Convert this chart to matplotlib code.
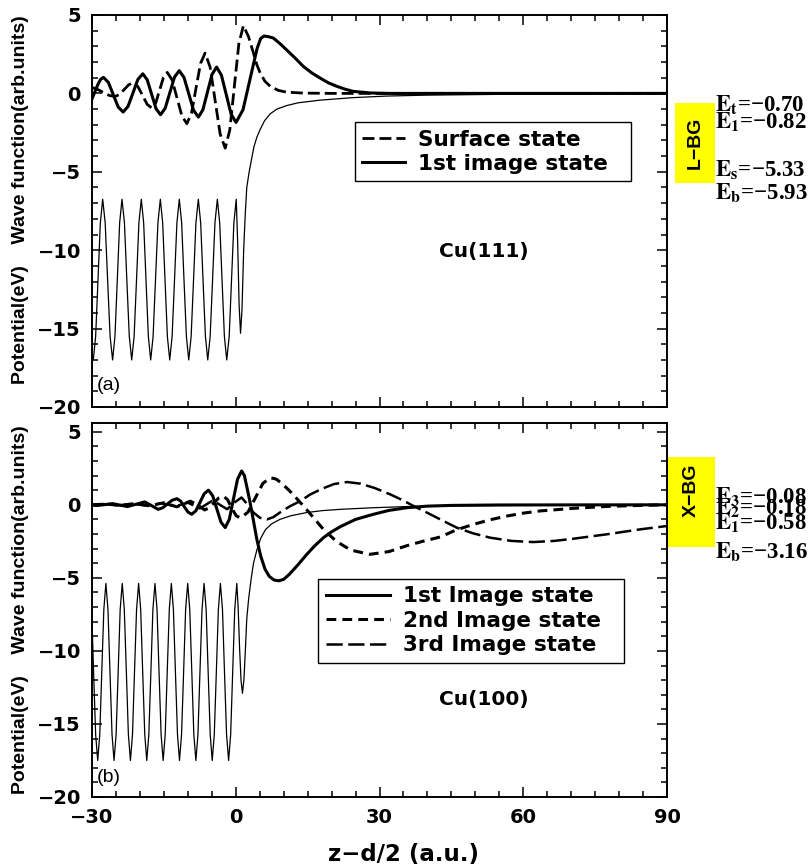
import matplotlib
matplotlib.use('Agg')
import matplotlib.pyplot as plt
from matplotlib.ticker import MultipleLocator
from matplotlib.patches import Rectangle

'''
Datos leidos de la figura: potencial y funciones de onda
(a) Cu(111)   (b) Cu(100)
'''

# ---- (a) Cu(111): potencial ----
z_pot_a = [-30.00, -29.73, -29.24, -28.75, -28.26, -27.77, -27.25, -26.74, -26.22,
           -25.70, -25.21, -24.72, -24.23, -23.74, -23.23, -22.73, -22.22,
           -21.71, -21.21, -20.71, -20.21, -19.71, -19.22, -18.73, -18.24,
           -17.75, -17.25, -16.75, -16.24, -15.74, -15.25, -14.76, -14.27,
           -13.78, -13.28, -12.78, -12.28, -11.78, -11.29, -10.80, -10.30,
           -9.81, -9.31, -8.81, -8.31, -7.81, -7.32, -6.83, -6.33,
           -5.84, -5.34, -4.84, -4.34, -3.84, -3.35, -2.86, -2.37,
           -1.88, -1.37, -0.88, -0.39, 0.10,
           0.40, 0.70, 1.00, 1.30, 1.65, 2.00, 2.30, 2.80, 3.30, 3.80, 4.40,
           5.10, 6.00, 7.20, 8.60, 10.6, 13.0, 17.6, 24.5, 31.5, 40.0, 55.0, 70.0, 90.0]
v_pot_a = [-16.80, -17.00, -15.50, -11.90, -8.25, -6.75, -8.25, -11.90, -15.50,
           -17.00, -15.50, -11.90, -8.25, -6.75, -8.25, -11.90, -15.50,
           -17.00, -15.50, -11.90, -8.25, -6.75, -8.25, -11.90, -15.50,
           -17.00, -15.50, -11.90, -8.25, -6.75, -8.25, -11.90, -15.50,
           -17.00, -15.50, -11.90, -8.25, -6.75, -8.25, -11.90, -15.50,
           -17.00, -15.50, -11.90, -8.25, -6.75, -8.25, -11.90, -15.50,
           -17.00, -15.50, -11.90, -8.25, -6.75, -8.25, -11.90, -15.50,
           -17.00, -15.50, -11.90, -8.25, -6.75,
           -9.50, -13.50, -15.30, -13.80, -10.00, -7.60, -6.00, -5.00, -4.20, -3.40, -2.80,
           -2.30, -1.75, -1.30, -1.00, -0.78, -0.60, -0.43, -0.27, -0.17, -0.11, -0.06, -0.03, -0.02]

# ---- (a) estado de superficie ----
z_ss_a = [-30.0, -28.8, -27.6, -26.4, -25.2, -24.25, -23.3, -22.35, -21.4, -20.43,
          -19.45, -18.48, -17.5, -16.7, -15.9, -15.1, -14.3, -13.28, -12.25, -11.23,
          -10.2, -9.25, -8.3, -7.35, -6.4, -5.35, -4.3, -3.25, -2.2, -1.25, -0.3,
          0.65, 1.6, 2.65, 3.7, 4.4, 5.1, 6.1, 7.2, 8.9, 10.6, 14.1, 20.0, 90.0]
v_ss_a = [0.38, 0.25, 0.05, -0.13, -0.20, -0.07, 0.24, 0.55, 0.68, 0.44,
          -0.13, -0.70, -0.94, -0.61, 0.20, 1.01, 1.34, 0.86, -0.30, -1.45,
          -1.93, -1.27, 0.32, 1.91, 2.57, 1.68, -0.46, -2.60, -3.49, -2.35, 0.42,
          3.18, 4.32, 3.63, 2.57, 1.83, 1.30, 0.77, 0.45, 0.19, 0.08, 0.02, 0.0, 0.0]

# ---- (a) primer estado imagen ----
z_is1_a = [-30.0, -29.4, -28.8, -28.2, -27.6, -26.58, -25.55, -24.53, -23.5, -22.48,
           -21.45, -20.43, -19.4, -18.48, -17.55, -16.63, -15.7, -14.73, -13.75, -12.78,
           -11.8, -10.8, -9.8, -8.8, -7.8, -6.85, -5.9, -4.95, -4.0, -2.99,
           -1.97, -0.96, 0.06, 1.52, 2.98, 4.44, 5.2, 5.9, 6.8, 7.85,
           9.25, 10.6, 12.4, 14.1, 15.9, 17.6, 19.3, 21.1, 22.8, 24.5, 28.0, 32.0, 90.0]
v_is1_a = [-0.35, 0.10, 0.55, 0.90, 1.02, 0.70, -0.09, -0.87, -1.19, -0.83,
           0.03, 0.89, 1.25, 0.87, -0.06, -0.98, -1.36, -0.95, 0.05, 1.04,
           1.45, 1.02, -0.03, -1.08, -1.51, -1.04, 0.09, 1.21, 1.68, 1.16,
           -0.09, -1.33, -1.85, -1.04, 0.91, 2.85, 3.50, 3.66, 3.62, 3.53,
           3.17, 2.78, 2.25, 1.72, 1.30, 0.98, 0.68, 0.45, 0.27, 0.13, 0.03, 0.0, 0.0]

# ---- (b) Cu(100): potencial ----
z_pot_b = [-30.00, -29.67, -29.24, -28.81, -28.38, -27.96, -27.53, -27.10,
           -26.67, -26.25, -25.82, -25.40, -24.97, -24.54, -24.12, -23.69,
           -23.26, -22.83, -22.41, -21.98, -21.55, -21.13, -20.70, -20.27,
           -19.84, -19.42, -18.99, -18.57, -18.14, -17.71, -17.29, -16.86,
           -16.43, -16.01, -15.58, -15.15, -14.72, -14.30, -13.87, -13.44,
           -13.01, -12.59, -12.16, -11.74, -11.31, -10.88, -10.46, -10.03,
           -9.60, -9.17, -8.75, -8.32, -7.89, -7.47, -7.04, -6.61,
           -6.18, -5.76, -5.33, -4.91, -4.48, -4.05, -3.63, -3.20,
           -2.77, -2.35, -1.92, -1.49, -1.06, -0.64, -0.21, 0.22,
           0.50, 0.80, 1.10, 1.40, 1.70, 2.00, 2.30, 2.70, 3.20, 3.70, 4.40,
           5.20, 6.20, 7.50, 9.20, 11.5, 14.8, 18.0, 21.8, 28.7, 35.7, 45.0, 60.0, 75.0, 90.0]
v_pot_b = [-7.90, -11.44, -15.72, -17.50, -15.72, -11.44, -7.16, -5.38,
           -7.16, -11.44, -15.72, -17.50, -15.72, -11.44, -7.16, -5.38,
           -7.16, -11.44, -15.72, -17.50, -15.72, -11.44, -7.16, -5.38,
           -7.16, -11.44, -15.72, -17.50, -15.72, -11.44, -7.16, -5.38,
           -7.16, -11.44, -15.72, -17.50, -15.72, -11.44, -7.16, -5.38,
           -7.16, -11.44, -15.72, -17.50, -15.72, -11.44, -7.16, -5.38,
           -7.16, -11.44, -15.72, -17.50, -15.72, -11.44, -7.16, -5.38,
           -7.16, -11.44, -15.72, -17.50, -15.72, -11.44, -7.16, -5.38,
           -7.16, -11.44, -15.72, -17.50, -15.72, -11.44, -7.16, -5.38,
           -7.00, -9.80, -12.00, -12.90, -12.00, -10.00, -7.80, -6.40, -5.10, -4.00, -3.10,
           -2.30, -1.70, -1.30, -1.00, -0.75, -0.53, -0.40, -0.31, -0.20, -0.12, -0.07, -0.04, -0.02, -0.01]

# ---- (b) primer estado imagen ----
z_is1_b = [-30.0, -29.0, -27.35, -25.7, -24.15, -22.6, -20.8, -19.0, -17.6, -16.2,
           -15.23, -14.25, -13.28, -12.3, -11.53, -10.75, -9.98, -9.2, -8.33, -7.45,
           -6.58, -5.7, -4.83, -3.95, -3.08, -2.2, -1.34, -0.49, 0.37, 1.23,
           1.8, 2.4, 3.0, 3.7, 4.4, 5.2, 6.1, 7.0, 8.0, 9.0,
           10.0, 11.2, 13.0, 14.8, 16.5, 18.3, 20.0, 21.8, 25.0, 28.7,
           32.0, 35.7, 40.0, 45.0, 55.0, 90.0]
v_is1_b = [-0.02, -0.05, 0.01, 0.08, -0.02, -0.12, 0.04, 0.20, -0.05, -0.31,
           -0.20, 0.06, 0.31, 0.42, 0.26, -0.12, -0.49, -0.65, -0.41, 0.18,
           0.76, 1.00, 0.63, -0.28, -1.19, -1.56, -0.99, 0.38, 1.75, 2.32,
           2.00, 1.10, 0.15, -1.10, -2.36, -3.50, -4.40, -4.90, -5.15, -5.20,
           -5.10, -4.75, -4.10, -3.40, -2.80, -2.25, -1.85, -1.50, -1.00, -0.65,
           -0.38, -0.20, -0.09, -0.04, -0.01, 0.0]

# ---- (b) segundo estado imagen ----
z_is2_b = [-30.0, -27.0, -24.0, -21.0, -18.0, -15.0, -12.3, -9.5, -8.0, -6.5,
           -5.5, -4.5, -3.5, -2.6, -1.7, -0.8, 0.1, 1.0, 2.55, 4.1,
           5.65, 7.2, 8.5, 10.0, 11.7, 13.5, 15.5, 18.3, 21.0, 24.0,
           28.0, 32.0, 35.7, 39.0, 42.7, 46.0, 49.6, 53.0, 56.6, 60.0,
           63.5, 70.5, 77.4, 84.4, 90.0]
v_is2_b = [0.0, 0.05, -0.04, 0.09, -0.07, 0.14, -0.14, 0.25, 0.0, -0.35,
           -0.20, 0.15, 0.48, 0.60, 0.35, -0.25, -0.75, -0.90, -0.50, 0.48,
           1.46, 1.86, 1.75, 1.35, 0.80, 0.15, -0.60, -1.68, -2.50, -3.10,
           -3.39, -3.20, -2.80, -2.50, -2.20, -1.72, -1.34, -1.03, -0.77, -0.57,
           -0.42, -0.24, -0.11, -0.04, 0.0]

# ---- (b) tercer estado imagen ----
z_is3_b = [-30.0, -27.5, -24.5, -21.5, -18.5, -15.5, -12.5, -10.0, -7.5, -4.8,
           -3.3, -1.8, -0.3, 1.2, 2.4, 3.7, 5.0, 6.5, 7.8, 9.2,
           11.3, 13.5, 15.5, 18.0, 20.5, 23.2, 26.0, 29.0, 32.2, 34.8,
           37.1, 40.0, 42.7, 46.1, 49.5, 53.1, 57.5, 62.1, 66.5, 70.5,
           77.4, 84.4, 90.0]
v_is3_b = [0.02, 0.05, -0.04, 0.07, -0.06, 0.10, -0.10, 0.15, -0.25, 0.30,
           0.0, -0.30, 0.15, 0.50, 0.05, -0.53, -0.88, -1.00, -0.85, -0.53,
           -0.10, 0.26, 0.70, 1.10, 1.42, 1.56, 1.45, 1.15, 0.72, 0.32,
           -0.08, -0.55, -1.00, -1.56, -1.95, -2.25, -2.47, -2.55, -2.47, -2.32,
           -2.02, -1.68, -1.45]

# energias (eV) a la derecha de cada panel
niv_a = ['t', '1', 's', 'b']
ene_a = ['−0.70', '−0.82', '−5.33', '−5.93']
niv_b = ['3', '2', '1', 'b']
ene_b = ['−0.08', '−0.18', '−0.58', '−3.16']

plt.rcParams['font.family'] = 'DejaVu Sans'
plt.rcParams['font.weight'] = 'bold'
plt.rcParams['mathtext.fontset'] = 'stix'

W, H = 811, 867
fig = plt.figure(figsize=(W / 100, H / 100), dpi=100)
ax1 = fig.add_axes([92 / W, 1 - 407 / H, 575 / W, 392 / H])
ax2 = fig.add_axes([92 / W, 1 - 797 / H, 575 / W, 374 / H])


def estilo(ax, ymax):
    ax.set_xlim(-30, 90)
    ax.set_ylim(-20, ymax)
    ax.xaxis.set_major_locator(MultipleLocator(30))
    ax.xaxis.set_minor_locator(MultipleLocator(5))
    ax.yaxis.set_major_locator(MultipleLocator(5))
    ax.yaxis.set_minor_locator(MultipleLocator(1))
    ax.tick_params(which='both', direction='in', top=True, right=True, width=1.1, color='black')
    ax.tick_params(which='major', length=7, labelsize=14, pad=8)
    ax.tick_params(which='minor', length=4)
    for s in ax.spines.values():
        s.set_linewidth(1.4)


# ---- panel (a) ----
ax1.plot(z_pot_a, v_pot_a, color='black', linewidth=0.9)
l_ss, = ax1.plot(z_ss_a, v_ss_a, color='black', linewidth=2.0, linestyle=(0, (4.3, 1.8)))
l_i1, = ax1.plot(z_is1_a, v_is1_a, color='black', linewidth=2.2)
estilo(ax1, 5)
ax1.tick_params(labelbottom=False)
leg1 = ax1.legend([l_ss, l_i1], ['Surface state', '1st image state  '],
                  loc='upper left', bbox_to_anchor=(0.457, 0.727), borderaxespad=0,
                  fontsize=15.5, handlelength=2.0, handletextpad=0.6, borderpad=0.35,
                  labelspacing=0.2, fancybox=False, framealpha=1, edgecolor='black')
leg1.get_frame().set_linewidth(1.0)

# ---- panel (b) ----
ax2.plot(z_pot_b, v_pot_b, color='black', linewidth=0.9)
l_b1, = ax2.plot(z_is1_b, v_is1_b, color='black', linewidth=2.2)
l_b2, = ax2.plot(z_is2_b, v_is2_b, color='black', linewidth=2.2, linestyle=(0, (3.2, 2.0)))
l_b3, = ax2.plot(z_is3_b, v_is3_b, color='black', linewidth=1.8, linestyle=(0, (6.5, 2.2)))
estilo(ax2, 5.6)
leg2 = ax2.legend([l_b1, l_b2, l_b3], ['1st Image state', '2nd Image state  ', '3rd Image state'],
                  loc='upper left', bbox_to_anchor=(0.393, 0.583), borderaxespad=0,
                  fontsize=15.5, handlelength=3.0, handletextpad=0.6, borderpad=0.35,
                  labelspacing=0.2, fancybox=False, framealpha=1, edgecolor='black')
leg2.get_frame().set_linewidth(1.0)

# textos
ylab = 'Potential(eV)    Wave function(arb.units)'
fig.text(21 / W, 1 - 200 / H, ylab, rotation=90, ha='center', va='center',
         fontsize=14, family='Liberation Sans', weight='bold')
fig.text(21 / W, 1 - 610 / H, ylab, rotation=90, ha='center', va='center',
         fontsize=14, family='Liberation Sans', weight='bold')
fig.text(97 / W, 1 - 385 / H, '(a)', va='center', fontsize=14, family='Liberation Sans', weight='normal')
fig.text(97 / W, 1 - 778 / H, '(b)', va='center', fontsize=14, family='Liberation Sans', weight='normal')
fig.text(484 / W, 1 - 252 / H, 'Cu(111)', ha='center', va='center', fontsize=14.5)
fig.text(484 / W, 1 - 700 / H, 'Cu(100)', ha='center', va='center', fontsize=14.5)
fig.text(403 / W, 1 - 854 / H, 'z−d/2 (a.u.)', ha='center', va='center', fontsize=16.5)

# cajas amarillas de la banda prohibida
fig.patches.append(Rectangle((675 / W, 1 - 183 / H), 40 / W, 80 / H, transform=fig.transFigure,
                             facecolor='#ffff00', edgecolor='none', figure=fig))
fig.patches.append(Rectangle((668 / W, 1 - 547 / H), 47 / W, 90 / H, transform=fig.transFigure,
                             facecolor='#ffff00', edgecolor='none', figure=fig))
fig.text(695 / W, 1 - 143 / H, 'L−BG', rotation=90, ha='center', va='center',
         fontsize=14, family='Liberation Sans', weight='bold')
fig.text(691 / W, 1 - 490 / H, 'X−BG', rotation=90, ha='center', va='center',
         fontsize=14, family='Liberation Sans', weight='bold')

ypos_a = [105, 122, 170, 193]
ypos_b = [497, 508, 523, 552]
for n, e, yp in zip(niv_a, ene_a, ypos_a):
    fig.text(715 / W, 1 - yp / H, r'$\mathbf{E_{%s}}$=%s' % (n, e), va='center',
             fontsize=16.5, family='Liberation Serif', weight='bold')
for n, e, yp in zip(niv_b, ene_b, ypos_b):
    fig.text(715 / W, 1 - yp / H, r'$\mathbf{E_{%s}}$=%s' % (n, e), va='center',
             fontsize=16.5, family='Liberation Serif', weight='bold')

fig.savefig('out.png', dpi=100)
